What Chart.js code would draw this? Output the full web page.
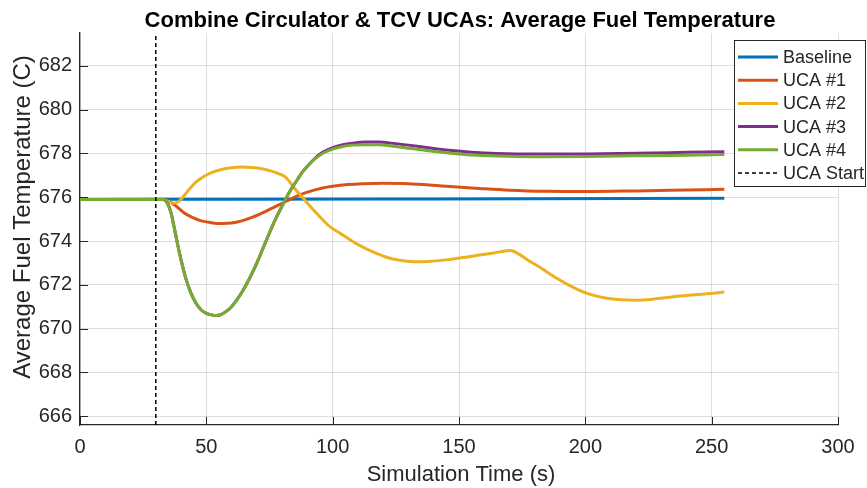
<!DOCTYPE html>
<html>
<head>
<meta charset="utf-8">
<script src="https://cdn.jsdelivr.net/npm/chart.js@4.4.1/dist/chart.umd.min.js"></script>
<style>
  html, body { margin: 0; padding: 0; background: #fff; }
  #grafico { display: block; }
</style>
</head>
<body>
<canvas id="grafico" width="867" height="488"></canvas>
<script>
// Dados (tempo em s, temperatura em C)
const baseT = [0, 60, 120, 180, 255];
const baseY = [675.9, 675.91, 675.92, 675.93, 675.95];

const uca1T = [0, 33, 35, 38, 41, 44, 48, 52, 56, 60, 64, 68, 72, 76, 80, 84, 88, 92, 96, 100, 106, 112, 120, 128, 136, 145, 158, 170, 185, 200, 220, 240, 255];
const uca1Y = [675.9, 675.9, 675.82, 675.6, 675.3, 675.1, 674.92, 674.84, 674.8, 674.82, 674.92, 675.08, 675.28, 675.5, 675.72, 675.95, 676.15, 676.3, 676.42, 676.5, 676.58, 676.62, 676.64, 676.63, 676.58, 676.5, 676.4, 676.32, 676.27, 676.26, 676.29, 676.33, 676.36];

const uca2T = [0, 33, 35, 37, 39, 41, 43.5, 46, 49, 52, 56, 60, 64, 68, 72, 76, 79, 81, 83, 85.7, 88, 91, 95, 99, 103, 107, 111, 116, 121, 126, 132, 138, 145, 152, 158, 164, 170.5, 173, 177, 182, 188, 195, 201, 208, 214, 220, 227, 235, 245, 255];
const uca2Y = [675.9, 675.9, 675.8, 675.73, 675.8, 676.05, 676.4, 676.7, 676.95, 677.12, 677.27, 677.35, 677.38, 677.36, 677.3, 677.18, 677.06, 676.95, 676.7, 676.3, 676.0, 675.6, 675.1, 674.65, 674.35, 674.05, 673.78, 673.5, 673.27, 673.13, 673.06, 673.07, 673.14, 673.25, 673.36, 673.46, 673.57, 673.45, 673.15, 672.8, 672.35, 671.9, 671.6, 671.4, 671.32, 671.3, 671.35, 671.46, 671.56, 671.67];

const uca34T = [0, 30, 33, 34.5, 36, 37.5, 39, 40.5, 42, 44, 46, 48, 50, 52, 54, 56, 58, 60, 62, 64, 66, 68, 70, 72, 74, 76, 78, 80, 82, 84, 86, 88, 90, 93, 96, 100, 104, 108, 113, 118, 124, 130, 138, 146, 155, 165, 180, 200, 220, 240, 255];
const uca3Y = [675.9, 675.9, 675.9, 675.75, 675.3, 674.5, 673.65, 672.9, 672.25, 671.6, 671.15, 670.85, 670.7, 670.63, 670.6, 670.65, 670.8, 671.0, 671.3, 671.65, 672.05, 672.5, 673.0, 673.55, 674.1, 674.65, 675.15, 675.6, 676.05, 676.45, 676.8, 677.15, 677.42, 677.78, 678.05, 678.27, 678.4, 678.47, 678.52, 678.52, 678.46, 678.38, 678.26, 678.15, 678.06, 678.0, 677.97, 677.98, 678.01, 678.05, 678.08];
const uca4Y = [675.9, 675.9, 675.9, 675.75, 675.3, 674.5, 673.65, 672.9, 672.25, 671.6, 671.15, 670.85, 670.7, 670.63, 670.6, 670.65, 670.8, 671.0, 671.3, 671.65, 672.05, 672.5, 673.0, 673.55, 674.1, 674.65, 675.15, 675.6, 676.05, 676.45, 676.8, 677.15, 677.4, 677.75, 678.0, 678.2, 678.32, 678.38, 678.4, 678.4, 678.33, 678.24, 678.12, 678.02, 677.93, 677.88, 677.85, 677.86, 677.89, 677.92, 677.95];

const ucaStart = 30;

const nomes = ['Baseline', 'UCA #1', 'UCA #2', 'UCA #3', 'UCA #4', 'UCA Start'];
const cores = ['#0072BD', '#D95319', '#EDB120', '#7E2F8E', '#77AC30', '#000000'];

const xTicks = [0, 50, 100, 150, 200, 250, 300];
const yTicks = [666, 668, 670, 672, 674, 676, 678, 680, 682];
const xMin = 0, xMax = 300, yMin = 665.6, yMax = 683.5;

const corTexto = '#262626';
const fonte = "Arial, 'Liberation Sans', Helvetica, sans-serif";

function pontos(ts, ys) {
    return ts.map((t, i) => ({ x: t, y: ys[i] }));
}

// ordem: a última série fica por cima (como no MATLAB)
function serie(i, ts, ys) {
    return {
        label: nomes[i],
        data: pontos(ts, ys),
        borderColor: cores[i],
        borderWidth: 3,
        pointRadius: 0,
        fill: false,
        order: 10 - i,
        cubicInterpolationMode: 'monotone'
    };
}

// Título, rótulos dos eixos, ticks internos e legenda
const extras = {
    id: 'extras',
    afterDraw(chart) {
        const ctx = chart.ctx;
        const a = chart.chartArea;
        const sx = chart.scales.x, sy = chart.scales.y;
        ctx.save();

        // ticks para dentro (estilo MATLAB)
        ctx.strokeStyle = corTexto;
        ctx.lineWidth = 1;
        ctx.beginPath();
        xTicks.forEach(v => {
            const px = Math.round(sx.getPixelForValue(v)) + 0.5;
            ctx.moveTo(px, a.bottom);
            ctx.lineTo(px, a.bottom - 8);
        });
        yTicks.forEach(v => {
            const py = Math.round(sy.getPixelForValue(v)) + 0.5;
            ctx.moveTo(a.left, py);
            ctx.lineTo(a.left + 8, py);
        });
        ctx.stroke();

        // título
        ctx.fillStyle = '#000';
        ctx.font = 'bold 22px ' + fonte;
        ctx.textAlign = 'center';
        ctx.textBaseline = 'alphabetic';
        ctx.fillText('Combine Circulator & TCV UCAs: Average Fuel Temperature', 460, 27);

        // rótulo eixo x
        ctx.fillStyle = corTexto;
        ctx.font = '22px ' + fonte;
        ctx.fillText('Simulation Time (s)', (a.left + a.right) / 2 + 2, 481);

        // rótulo eixo y
        ctx.save();
        ctx.translate(30, 217);
        ctx.rotate(-Math.PI / 2);
        ctx.font = '24px ' + fonte;
        ctx.fillText('Average Fuel Temperature (C)', 0, 0);
        ctx.restore();

        // legenda
        const lx = 734, ly = 40, lw = 132, lh = 147;
        ctx.fillStyle = '#fff';
        ctx.fillRect(lx, ly, lw, lh);
        ctx.strokeStyle = corTexto;
        ctx.lineWidth = 1;
        ctx.strokeRect(lx + 0.5, ly + 0.5, lw - 1, lh - 1);
        ctx.font = '18px ' + fonte;
        ctx.textAlign = 'left';
        ctx.textBaseline = 'middle';
        nomes.forEach((nome, i) => {
            const y = ly + 17 + i * 23.2;
            ctx.beginPath();
            ctx.strokeStyle = cores[i];
            if (i === 5) {
                ctx.lineWidth = 1.5;
                ctx.setLineDash([4, 3]);
            } else {
                ctx.lineWidth = 3;
                ctx.setLineDash([]);
            }
            ctx.moveTo(738, y);
            ctx.lineTo(778, y);
            ctx.stroke();
            ctx.fillStyle = corTexto;
            ctx.fillText(nome, 783, y + 1);
        });
        ctx.setLineDash([]);
        ctx.restore();
    }
};

const ctx = document.getElementById('grafico').getContext('2d');
const grafico = new Chart(ctx, {
    type: 'line',
    data: {
        datasets: [
            serie(0, baseT, baseY),
            serie(1, uca1T, uca1Y),
            serie(2, uca2T, uca2Y),
            serie(3, uca34T, uca3Y),
            serie(4, uca34T, uca4Y),
            {
                label: nomes[5],
                data: [{ x: ucaStart, y: yMin }, { x: ucaStart, y: yMax }],
                borderColor: cores[5],
                borderWidth: 1.5,
                borderDash: [4, 3],
                pointRadius: 0,
                fill: false,
                order: 0
            }
        ]
    },
    options: {
        responsive: false,
        animation: false,
        devicePixelRatio: 1,
        layout: { padding: { left: 0, right: 29, top: 33, bottom: 0 } },
        plugins: {
            legend: { display: false },
            title: { display: false },
            tooltip: { enabled: false }
        },
        scales: {
            x: {
                type: 'linear',
                min: xMin,
                max: xMax,
                afterBuildTicks: s => { s.ticks = xTicks.map(v => ({ value: v })); },
                afterFit: s => { s.height = 63; },
                grid: { color: 'rgba(0,0,0,0.13)', drawTicks: false },
                border: { color: corTexto, width: 1.3 },
                ticks: {
                    color: corTexto,
                    font: { family: fonte, size: 20 },
                    padding: 10,
                    maxRotation: 0
                }
            },
            y: {
                type: 'linear',
                min: yMin,
                max: yMax,
                afterBuildTicks: s => { s.ticks = yTicks.map(v => ({ value: v })); },
                afterFit: s => { s.width = 80; },
                grid: { color: 'rgba(0,0,0,0.13)', drawTicks: false },
                border: { color: corTexto, width: 1.3 },
                ticks: {
                    color: corTexto,
                    font: { family: fonte, size: 20 },
                    padding: 8
                }
            }
        }
    },
    plugins: [extras]
});
</script>
</body>
</html>
